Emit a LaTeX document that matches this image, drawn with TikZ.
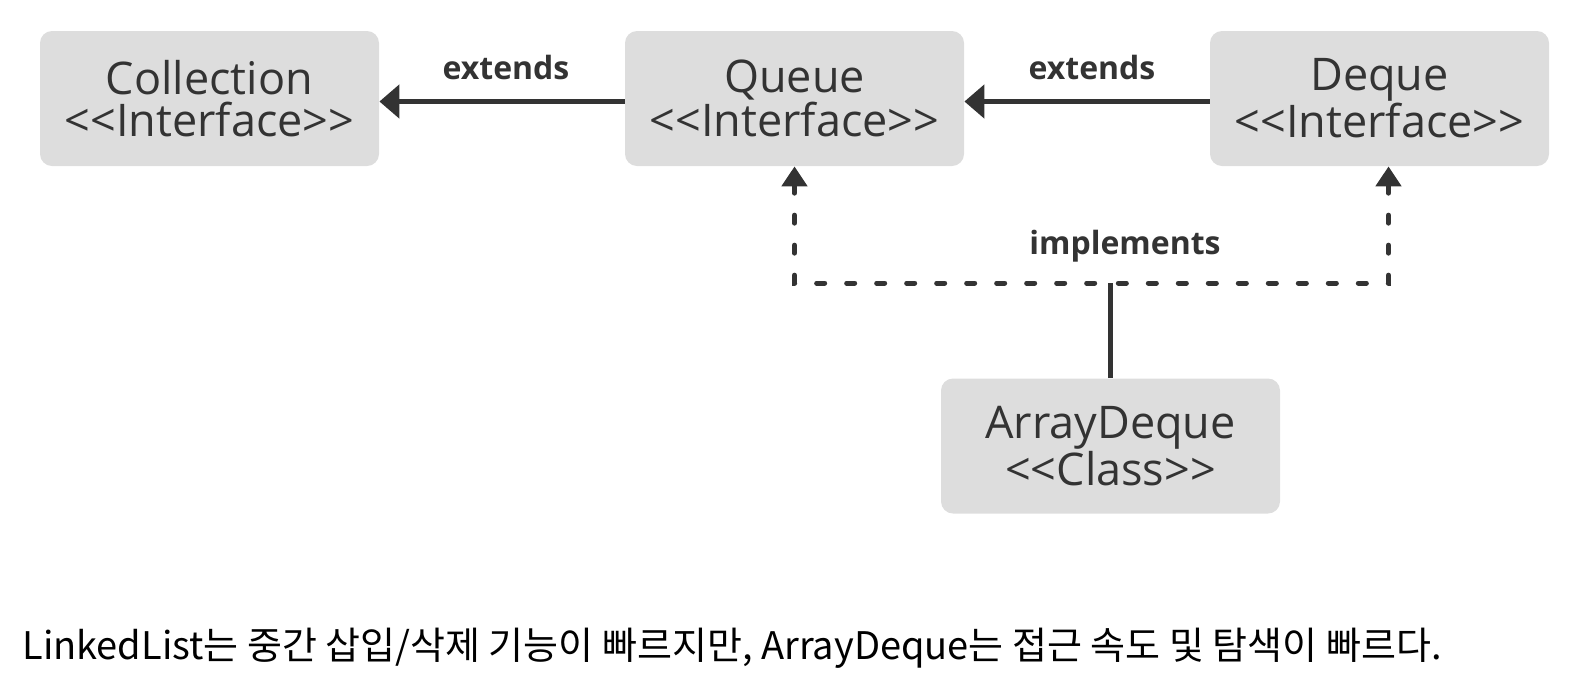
\documentclass[tikz,border=0pt]{standalone}
\usepackage{fontspec}
\setmainfont{Open Sans}[Ligatures=TeXOff]
\newfontfamily\krfont{Noto Sans CJK KR}
\usetikzlibrary{arrows.meta, positioning}
\definecolor{boxgray}{HTML}{DDDDDD}
\definecolor{ink}{HTML}{333333}

\begin{document}
\begin{tikzpicture}[x=0.5pt, y=-0.5pt,
  iface/.style={fill=boxgray, rounded corners=6pt, minimum width=169.5pt,
    minimum height=67.5pt, align=center, text=ink, inner sep=0pt,
    font=\fontsize{22.5}{21}\selectfont},
  rel/.style={text=ink, font=\bfseries\fontsize{16}{18}\selectfont},
  ext/.style={draw=ink, line width=2.5pt, -{Triangle[length=10pt, width=16.5pt]}},
  impl/.style={draw=ink, line width=2.5pt, line cap=round,
    dash pattern=on 4pt off 11pt, {Triangle[length=10pt, width=12.5pt]}-}]
  \useasboundingbox (0,0) rectangle (1586,692);

  % Interfaces
  \node[iface] (coll) at (209.5, 98.5) {Collection\\<<Interface>>};
  \node[iface] (que) at (794.5, 98.5) {Queue\\<<Interface>>};
  \node[iface] (deq) at (1379.5, 98.5) {Deque\\<<Interface>>};
  % Class
  \node[iface] (arr) at (1110.5, 446) {ArrayDeque\\<<Class>>};

  \node[rel] (ext1) at (506, 67) {extends};
  \node[rel] (ext2) at (1092, 67) {extends};
  \node[rel] (impl1) at (1125, 246) {implements};
  \coordinate (split) at (1110.5, 283);

  \draw[ext] ([yshift=-1.5pt]que.west) -- ([yshift=-1.5pt]coll.east);
  \draw[ext] ([yshift=-1.5pt]deq.west) -- ([yshift=-1.5pt]que.east);
  \draw[draw=ink, line width=2.5pt] (arr.north) -- (split);
  \draw[impl] (que.south) |- (split);
  \draw[impl] ([xshift=4.5pt]deq.south) |- (split);

  \node[anchor=base west, inner sep=0pt, text=black,
    font=\krfont\fontsize{19}{20}\selectfont] (note) at (22, 659)
    {LinkedList는 중간 삽입/삭제 기능이 빠르지만, ArrayDeque는 접근 속도 및 탐색이 빠르다.};
\end{tikzpicture}
\end{document}
